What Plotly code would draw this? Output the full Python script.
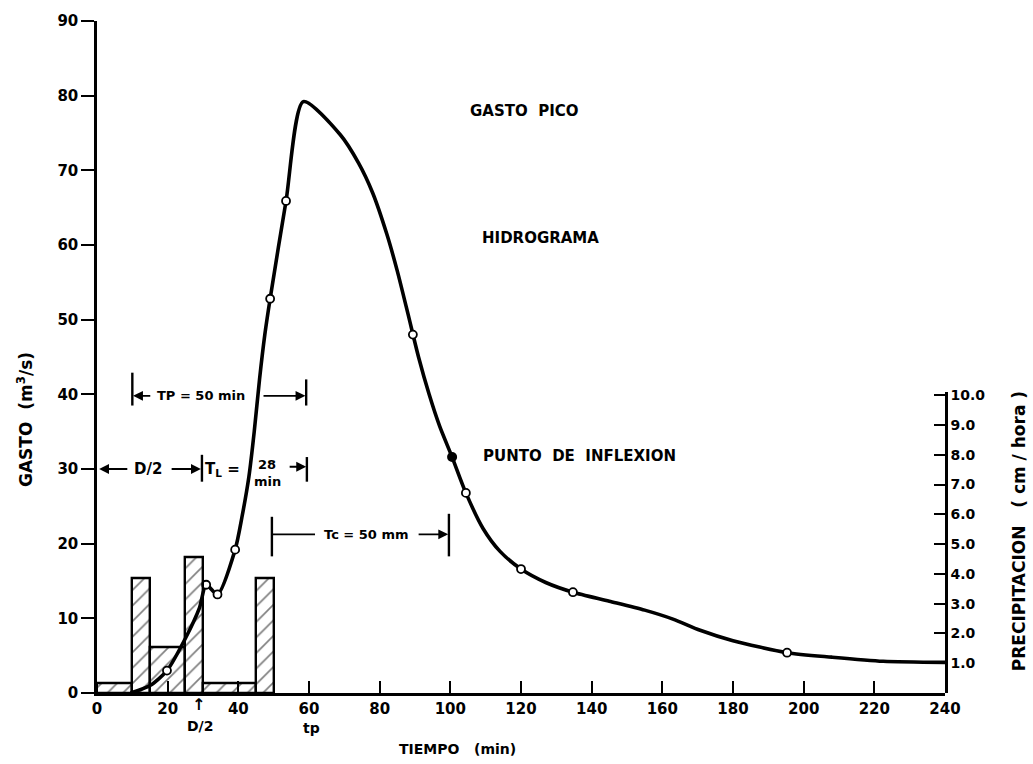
import plotly.graph_objects as go

# ---------------- data ----------------
# Hydrograph (tiempo en min, gasto en m3/s)
tiempo = [9.5, 15, 19.8, 25, 29, 30.9, 34.1, 39.1, 41, 43, 44.5, 46, 47.5, 49.0,
          53.5, 58.4, 68.8, 74, 78, 82, 85, 88, 91, 94, 97, 100.5, 104.4,
          109.3, 114, 120, 127, 134.7, 145, 155, 163, 170.7, 180, 195.3, 208, 222.5, 240]
gasto = [0, 1.0, 3.0, 7.3, 11.4, 14.5, 13.2, 19.2, 23.5, 29, 35, 42, 48, 52.8,
         65.9, 79.2, 74.8, 71.0, 67.0, 61.5, 56.5, 50.8, 45.0, 40.0, 35.7, 31.6, 26.8,
         22.0, 19.0, 16.6, 14.8, 13.5, 12.3, 11.1, 9.9, 8.4, 7.0, 5.4, 4.8, 4.25, 4.1]

# Marked points on the hydrograph
t_puntos = [19.8, 30.9, 34.1, 39.1, 49.0, 53.5, 89.4, 104.4, 120.0, 134.7, 195.3]
q_puntos = [3.0, 14.5, 13.2, 19.2, 52.8, 65.9, 48.0, 26.8, 16.6, 13.5, 5.4]
t_inflexion = [100.5]
q_inflexion = [31.6]

# Hyetograph (cm/hora)
p_inicio = [0, 10, 15, 25, 30, 45]
p_fin = [10, 15, 25, 30, 45, 50]
precipitacion = [0.33, 3.87, 1.55, 4.55, 0.33, 3.87]

x_ticks = list(range(0, 241, 20))
y_ticks = list(range(0, 91, 10))
p_ticks = [1, 2, 3, 4, 5, 6, 7, 8, 9, 10]
p_ticktext = ["1.0", "2.0", "3.0", "4.0", "5.0", "6.0", "7.0", "8.0", "9.0", "10.0"]

# ---------------- layout geometry ----------------
W, H = 1033, 764
ML, MR, MT, MB = 97, 88, 16, 71
PW, PH = W - ML - MR, H - MT - MB

def px(xp):
    return (xp - ML) / PW

def py(yp):
    return (H - MB - yp) / PH

FONT = "DejaVu Sans"

fig = go.Figure()

# hyetograph bars (hatched)
centros = [(a + b) / 2 for a, b in zip(p_inicio, p_fin)]
anchos = [b - a for a, b in zip(p_inicio, p_fin)]
fig.add_trace(go.Bar(
    x=centros, y=precipitacion, width=anchos, xaxis="x", yaxis="y2",
    marker=dict(color="rgba(0,0,0,0)",
                line=dict(color="black", width=2.4),
                pattern=dict(shape="/", fgcolor="black", bgcolor="rgba(0,0,0,0)",
                             size=11, solidity=0.15)),
    showlegend=False, hoverinfo="skip"))

# hydrograph
fig.add_trace(go.Scatter(
    x=tiempo, y=gasto, mode="lines", xaxis="x", yaxis="y",
    line=dict(color="black", width=3.6, shape="spline", smoothing=0.7),
    showlegend=False))
fig.add_trace(go.Scatter(
    x=t_puntos, y=q_puntos, mode="markers", xaxis="x", yaxis="y",
    marker=dict(symbol="circle", size=8, color="white",
                line=dict(color="black", width=1.8)),
    showlegend=False))
fig.add_trace(go.Scatter(
    x=t_inflexion, y=q_inflexion, mode="markers", xaxis="x", yaxis="y",
    marker=dict(symbol="circle", size=10, color="black"),
    showlegend=False))

shapes = []
annotations = []

def vbar(x, y0, y1):
    shapes.append(dict(type="line", xref="x", yref="y", x0=x, x1=x, y0=y0, y1=y1,
                       line=dict(color="black", width=2.4)))

def arrow(x_tail, x_tip, y):
    annotations.append(dict(x=x_tip, y=y, ax=x_tail, ay=y, xref="x", yref="y",
                            axref="x", ayref="y", text="", showarrow=True,
                            arrowhead=2, arrowsize=1.1, arrowwidth=1.8,
                            arrowcolor="black"))

def text(x, y, s, size=14, xref="x", yref="y", **kw):
    d = dict(x=x, y=y, xref=xref, yref=yref, text=s, showarrow=False,
             xanchor="center", yanchor="middle",
             font=dict(family=FONT, size=size, color="black", weight="bold"))
    d.update(kw)
    annotations.append(d)

# TP = 50 min bracket
vbar(10, 38.5, 42.9)
arrow(15.5, 10.2, 39.8)
text(29.3, 39.8, "TP = 50 min", size=13)
arrow(46.7, 59.0, 39.8)
vbar(59.2, 38.5, 42.0)

# D/2 bracket
arrow(9.0, 0.6, 30)
text(14.4, 30, "D/2", size=15)
arrow(20.7, 29.4, 30)
vbar(29.7, 28.3, 31.9)

# T_L = 28 min
text(35.4, 29.9, "T<sub>L</sub> =", size=15)
text(48.2, 30.6, "28", size=13)
text(48.2, 28.3, "min", size=13)
arrow(54.1, 59.2, 30.3)
vbar(59.4, 28.3, 31.6)

# Tc = 50 mm bracket
vbar(49.5, 18.3, 23.6)
shapes.append(dict(type="line", xref="x", yref="y", x0=49.5, x1=61.7, y0=21.25, y1=21.25,
                   line=dict(color="black", width=1.8)))
text(76.4, 21.25, "Tc = 50 mm", size=13)
arrow(90.6, 99.4, 21.25)
vbar(99.6, 18.3, 24.0)

# labels in the plot
text(px(524), py(107), "GASTO  PICO", size=15, xref="paper", yref="paper")
text(px(540), py(235), "HIDROGRAMA", size=15, xref="paper", yref="paper")
text(px(579), py(454), "PUNTO  DE  INFLEXION", size=15, xref="paper", yref="paper")

# labels under the axis
text(px(198), py(705), "↑", size=16, xref="paper", yref="paper")
text(px(200), py(726), "D/2", size=14, xref="paper", yref="paper")
text(px(311), py(728), "tp", size=14, xref="paper", yref="paper")

# axis titles
text(px(457), py(749), "TIEMPO   (min)", size=14, xref="paper", yref="paper")
text(px(25), py(418), "GASTO  (m<sup>3</sup>/s)", size=17, xref="paper", yref="paper",
     textangle=-90)
text(px(1019), py(530), "PRECIPITACION   ( cm / hora )", size=17, xref="paper",
     yref="paper", textangle=-90)

fig.update_layout(
    width=W, height=H, autosize=False,
    margin=dict(l=ML, r=MR, t=MT, b=MB, pad=0),
    paper_bgcolor="white", plot_bgcolor="rgba(0,0,0,0)",
    font=dict(family=FONT, size=15, color="black", weight="bold"),
    showlegend=False,
    bargap=0,
    xaxis=dict(range=[0, 240], domain=[0, 1], anchor="y",
               tickvals=x_ticks, ticks="inside", ticklen=12, tickwidth=2,
               tickcolor="black", showline=True, linewidth=2.5, linecolor="black",
               showgrid=False, zeroline=False,
               tickfont=dict(family=FONT, size=15, color="black", weight="bold")),
    yaxis=dict(range=[0, 90], domain=[0, 1], anchor="x",
               tickvals=y_ticks, ticks="outside", ticklen=13, tickwidth=2,
               tickcolor="black", showline=True, linewidth=2.5, linecolor="black",
               showgrid=False, zeroline=False,
               tickfont=dict(family=FONT, size=15, color="black", weight="bold")),
    yaxis2=dict(range=[0, 10.1], domain=[0, 303 / PH], anchor="x", side="right",
                tickvals=p_ticks, ticktext=p_ticktext, ticks="inside", ticklen=11,
                tickwidth=2, tickcolor="black", showline=True, linewidth=2.5,
                linecolor="black", showgrid=False, zeroline=False,
                tickfont=dict(family=FONT, size=14, color="black", weight="bold")),
    shapes=shapes,
    annotations=annotations,
)

fig.write_html("out.html")
